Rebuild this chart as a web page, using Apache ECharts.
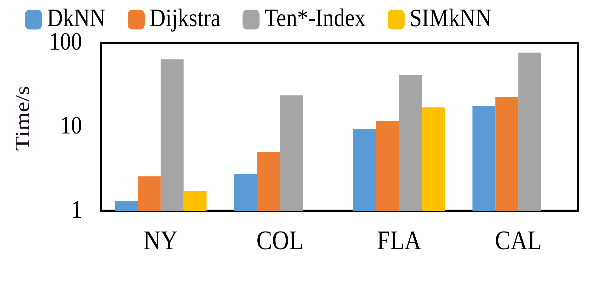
<!DOCTYPE html>
<html><head><meta charset="utf-8">
<script src="https://cdn.jsdelivr.net/npm/echarts@6/dist/echarts.min.js"></script>
<style>html,body{margin:0;padding:0;background:#fff;overflow:hidden}#c{width:597px;height:260px;transform:scaleY(1.153846);transform-origin:0 0}</style>
</head><body><div id="c"></div>
<script>
const categories = ['NY', 'COL', 'FLA', 'CAL'];
const seriesNames = ['DkNN', 'Dijkstra', 'Ten*-Index', 'SIMkNN'];
const dknn = [1.31, 2.74, 9.4, 17.7];
const dijkstra = [2.59, 5.0, 11.8, 22.7];
const tenIndex = [64, 23.8, 41.5, 77];
const simknn = [1.72, null, 17.1, null];
const yTicks = [1, 10, 100];
const colors = ['#5B9BD5', '#ED7D31', '#A5A5A5', '#FFC000'];

const font = 'Liberation Serif';
const chart = echarts.init(document.getElementById('c'), null, {renderer: 'canvas', devicePixelRatio: 3});
const values = [dknn, dijkstra, tenIndex, simknn];
chart.setOption({
  animation: false,
  color: colors,
  textStyle: {fontFamily: font},
  legend: {
    top: 6, left: 25, padding: 0,
    itemWidth: 17, itemHeight: 17, itemGap: 22,
    icon: 'roundRect',
    textStyle: {fontFamily: font, fontSize: 22, color: '#000'},
    data: seriesNames
  },
  grid: {left: 101, right: 19, top: 37.3, bottom: 77.2, show: true, borderColor: '#000', borderWidth: 2},
  xAxis: {
    type: 'category', data: categories,
    axisLine: {show: true, lineStyle: {color: '#000', width: 2}},
    axisTick: {show: false},
    axisLabel: {fontFamily: font, fontSize: 23.5, color: '#000', margin: 15}
  },
  yAxis: {
    type: 'log', logBase: 10, min: 1, max: 100,
    name: 'Time/s', nameLocation: 'middle', nameGap: 67, nameRotate: 90,
    nameTextStyle: {fontFamily: font, fontSize: 20.5, color: '#1a0a1f', padding: [0, 0, 0, 15]},
    axisLine: {show: true, lineStyle: {color: '#000', width: 2}},
    axisTick: {show: false},
    splitLine: {show: false},
    axisLabel: {fontFamily: font, fontSize: 22, color: '#000', margin: 19,
      formatter: v => yTicks.includes(Math.round(v)) ? String(Math.round(v)) : ''}
  },
  series: seriesNames.map((n, i) => ({
    name: n, type: 'bar', data: values[i],
    barGap: '0%', barCategoryGap: '23%'
  }))
});
</script></body></html>
